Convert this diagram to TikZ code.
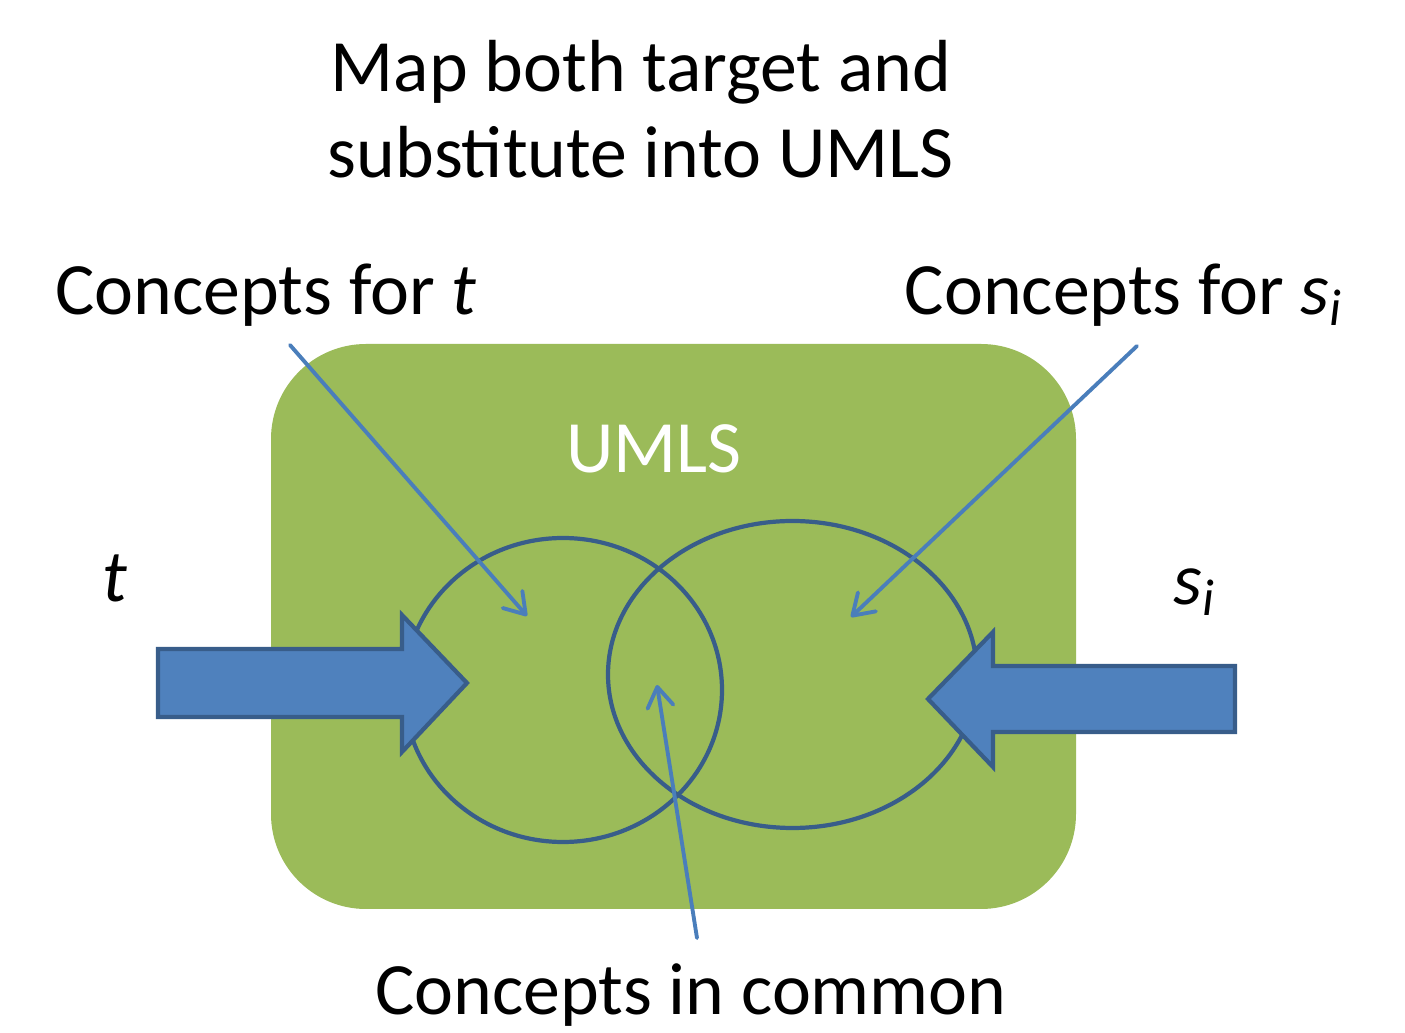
\documentclass[tikz,border=0pt]{standalone}
\usepackage{fontspec}
\setmainfont{Carlito}
\usetikzlibrary{arrows.meta}
\definecolor{umlsgreen}{HTML}{9BBB59}
\definecolor{arrowblue}{HTML}{4F81BD}
\definecolor{edgeblue}{HTML}{385D8A}
\definecolor{pointblue}{HTML}{4A7EBB}
\begin{document}
\begin{tikzpicture}[
  every node/.style={font=\fontsize{21}{24.5}\selectfont, inner sep=0pt},
  conceptset/.style={draw=edgeblue, line width=1.2pt},
  blockarrow/.style={draw=edgeblue, fill=arrowblue, line width=1.2pt, line join=miter},
  pointer/.style={draw=pointblue, line width=1.1pt, line cap=round,
    -{Straight Barb[length=2mm, width=2.6mm, line width=1.1pt, round]}}
]
\useasboundingbox (0,0) rectangle (14.05,10.33);

\fill[umlsgreen, rounded corners=0.95cm] (2.71,1.24) rectangle (10.76,6.89);
\node[text=white, anchor=base] (umls) at (6.54,5.60) {UMLS};

\draw[conceptset] (5.63,3.43) ellipse [x radius=1.59, y radius=1.52];
\draw[conceptset] (7.925,3.585) ellipse [x radius=1.845, y radius=1.535];

\draw[blockarrow] (1.58,3.84) -- (4.02,3.84) -- (4.02,4.18) -- (4.67,3.50)
  -- (4.02,2.81) -- (4.02,3.16) -- (1.58,3.16) -- cycle;
\draw[blockarrow] (12.35,3.67) -- (9.93,3.67) -- (9.93,4.01) -- (9.28,3.34)
  -- (9.93,2.66) -- (9.93,3.01) -- (12.35,3.01) -- cycle;

\node[align=center, anchor=base] (title) at (6.41,8.55)
  {Map both target and\\substitute into UMLS};
\node[anchor=base] (tlabel) at (2.66,7.18) {Concepts for \textit{t}};
\node[anchor=base] (slabel) at (11.24,7.18) {Concepts for \textit{s}\textsubscript{\textit{i}}};
\node[anchor=base] (common) at (6.91,0.18) {Concepts in common};
\node[anchor=base] (tin) at (1.15,4.31) {\textit{t}};
\node[anchor=base] (sin) at (11.95,4.28) {\textit{s}\textsubscript{\textit{i}}};

\coordinate (tfrom) at (2.90,6.88);
\coordinate (tset) at (5.27,4.17);
\coordinate (sfrom) at (11.37,6.87);
\coordinate (sset) at (8.51,4.16);
\coordinate (cfrom) at (6.97,0.95);
\coordinate (cset) at (6.57,3.48);

\draw[pointer] (tfrom) -- (tset);
\draw[pointer] (sfrom) -- (sset);
\draw[pointer] (cfrom) -- (cset);
\end{tikzpicture}
\end{document}
